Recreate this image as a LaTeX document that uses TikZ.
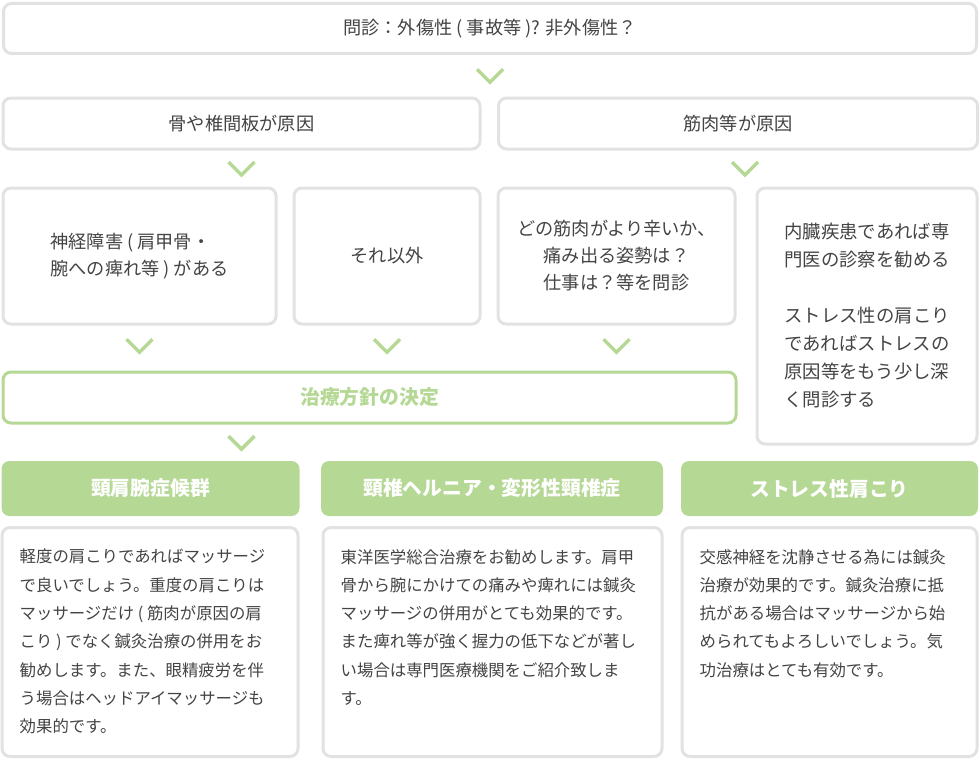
\documentclass[tikz,border=0pt]{standalone}
\usepackage{fontspec}
\setmainfont{Noto Sans CJK JP}
\usetikzlibrary{calc}
\definecolor{bord}{HTML}{E2E2E2}
\definecolor{grn}{HTML}{B5D895}
\definecolor{txt}{HTML}{444444}
\begin{document}
\begin{tikzpicture}[x=1pt,y=-1pt,
  box/.style={draw=bord,line width=3pt,rounded corners=8pt,fill=white,inner sep=0pt,text=txt,
    font=\fontsize{18.2}{27}\selectfont},
  gbox/.style={draw=grn,line width=3pt,rounded corners=8pt,fill=white,inner sep=0pt,text=grn,
    font=\fontsize{19.8}{24}\selectfont\bfseries},
  hbox/.style={fill=grn,rounded corners=8pt,inner sep=0pt,text=white,minimum height=55pt,
    font=\fontsize{19.8}{24}\selectfont\bfseries},
  body/.style={text=txt,inner sep=0pt,anchor=north west,align=left,
    font=\fontsize{16.4}{28.3}\selectfont},
  chevline/.style={draw=grn,line width=3.5pt},
  chev/.pic={\draw[chevline] (-13,-6.5) -- (0,6.5) -- (13,-6.5);}
]
\useasboundingbox (0,0) rectangle (980,760);

% top question
\node[box,minimum width=973pt,minimum height=50pt] (q) at (490,28.5)
  {問診：外傷性 ( 事故等 )? 非外傷性？};

% row 2
\node[box,minimum width=477pt,minimum height=51pt] (r2l) at (241.5,123.5) {骨や椎間板が原因};
\node[box,minimum width=479pt,minimum height=51pt] (r2r) at (738,123.5) {筋肉等が原因};

% row 3
\node[box,minimum width=273pt,minimum height=136pt,align=left] (b1) at (139.5,256)
  {神経障害 ( 肩甲骨・\\腕への痺れ等 ) がある};
\node[box,minimum width=186pt,minimum height=136pt] (b2) at (387,256) {それ以外};
\node[box,minimum width=237pt,minimum height=136pt,align=center] (b3) at (616.5,256)
  {どの筋肉がより辛いか、\\痛み出る姿勢は？\\仕事は？等を問診};
\node[box,minimum width=220pt,minimum height=256pt,align=left,
  font=\fontsize{18.4}{28}\selectfont] (b4) at (867,316)
  {内臓疾患であれば専\\門医の診察を勧める\\[28pt]ストレス性の肩こり\\であればストレスの\\原因等をもう少し深\\く問診する};

% decision
\node[gbox,minimum width=733pt,minimum height=51pt] (d) at (369.5,397.5) {治療方針の決定};

% headers
\node[hbox,minimum width=298pt] (h1) at (150.5,488.5) {頸肩腕症候群};
\node[hbox,minimum width=342pt] (h2) at (492,488.5) {頸椎ヘルニア・変形性頸椎症};
\node[hbox,minimum width=297pt] (h3) at (829.5,488.5) {ストレス性肩こり};

% content boxes
\node[box,minimum width=296pt,minimum height=229pt] (c1) at (150,642) {};
\node[box,minimum width=339pt,minimum height=229pt] (c2) at (492.5,642) {};
\node[box,minimum width=295pt,minimum height=229pt] (c3) at (829.5,642) {};

\node[body] (t1) at ($(c1.north west)+(19,23)$)
  {軽度の肩こりであればマッサージ\\で良いでしょう。重度の肩こりは\\マッサージだけ ( 筋肉が原因の肩\\こり ) でなく鍼灸治療の併用をお\\勧めします。また、眼精疲労を伴\\う場合はヘッドアイマッサージも\\効果的です。};
\node[body] (t2) at ($(c2.north west)+(19,23)$)
  {東洋医学総合治療をお勧めします。肩甲\\骨から腕にかけての痛みや痺れには鍼灸\\マッサージの併用がとても効果的です。\\また痺れ等が強く握力の低下などが著し\\い場合は専門医療機関をご紹介致しま\\す。};
\node[body] (t3) at ($(c3.north west)+(19,23)$)
  {交感神経を沈静させる為には鍼灸\\治療が効果的です。鍼灸治療に抵\\抗がある場合はマッサージから始\\められてもよろしいでしょう。気\\功治療はとても有効です。};

% chevrons (flow markers between boxes)
\pic at ($(q.south)!0.5!(q.south |- r2l.north)$) {chev};
\pic at ($(r2l.south)!0.5!(r2l.south |- b1.north)$) {chev};
\pic at ($(745,0 |- r2r.south)!0.5!(745,0 |- b3.north)$) {chev};
\pic at ($(b1.south)!0.45!(b1.south |- d.north)$) {chev};
\pic at ($(b2.south)!0.45!(b2.south |- d.north)$) {chev};
\pic at ($(b3.south)!0.45!(b3.south |- d.north)$) {chev};
\pic at ($(r2l.south |- d.south)!0.5!(r2l.south |- h1.north)$) {chev};
\end{tikzpicture}
\end{document}
